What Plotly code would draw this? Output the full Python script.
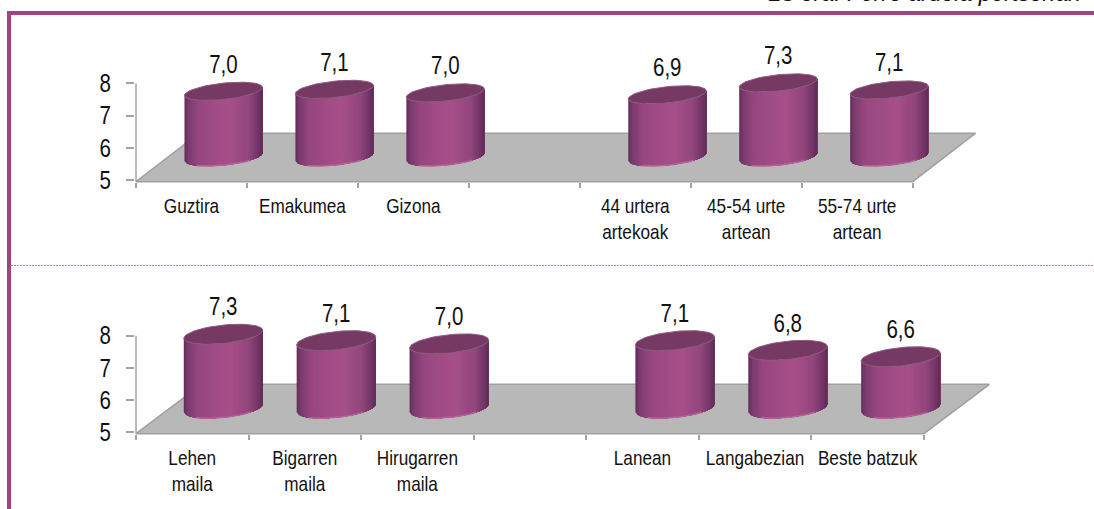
import math
import plotly.graph_objects as go

# ---- data ----
top_categories = ["Guztira", "Emakumea", "Gizona", "", "44 urtera<br>artekoak", "45-54 urte<br>artean", "55-74 urte<br>artean"]
top_values = [7.04, 7.10, 6.99, None, 6.93, 7.30, 7.08]
bottom_categories = ["Lehen<br>maila", "Bigarren<br>maila", "Hirugarren<br>maila", "", "Lanean", "Langabezian", "Beste batzuk"]
bottom_values = [7.30, 7.10, 7.00, None, 7.10, 6.80, 6.60]
y_ticks = [5, 6, 7, 8]
header_text = "25 ora. Ferro ardoia pertsonan"

W, H = 1094, 509
PURPLE = "#A0457F"
AXIS = "#A3A3A3"
FONT = "Liberation Sans, Arial"
X_LO = -0.01
Y_TOP = 9.6
Y_LOW = 4.9

# gradient across the cylinder wall: position, colour
STOPS = [(0.00, (96, 44, 88)), (0.05, (122, 58, 110)), (0.18, (150, 70, 127)), (0.45, (163, 77, 135)),
         (0.60, (166, 79, 136)), (0.82, (146, 70, 124)), (0.95, (112, 52, 102)), (1.00, (94, 44, 84))]
N_BANDS = 44


def grad(u):
    for (a, ca), (b, cb) in zip(STOPS, STOPS[1:]):
        if u <= b:
            f = (u - a) / (b - a)
            return "rgb(%d,%d,%d)" % tuple(round(p + (q - p) * f) for p, q in zip(ca, cb))
    return "rgb(94,44,84)"


def panel(fig, xa, ya, cats, vals, geo):
    unit_x = geo["unit_x"]
    unit_y = (geo["y5"] - geo["y8"]) / 3
    a = geo["half_w"] / unit_x
    b = geo["ellipse_h"] / unit_y
    k = 4.0 / unit_y
    base = 5 + (geo["y5"] - geo["base_px"]) / unit_y
    centers = [(i + 0.5 + (geo["offset"] + i * geo["spread"]) / unit_x, v) for i, v in enumerate(vals) if v is not None]

    common = dict(xaxis=xa, yaxis=ya, hoverinfo="skip", showlegend=False)

    # floor
    front = 5 - geo["front_drop"] / unit_y
    dx = geo["floor_dx"] / unit_x
    dy = geo["floor_dy"] / unit_y
    fig.add_trace(go.Scatter(x=[0, 7, 7 + dx, dx, 0], y=[front, front, front + dy, front + dy, front],
                             fill="toself", fillcolor="#B8B8B8", mode="lines",
                             line=dict(color="#A0A0A0", width=1.5), **common))
    # vertical axis line, only from 5 to 8
    fig.add_trace(go.Scatter(x=[0, 0], y=[front, 8], mode="lines", line=dict(color=AXIS, width=1.5), **common))

    def arc_y(cy, u):
        c = 2 * u - 1
        return cy - b * math.sqrt(max(0, 1 - c * c)) + k * c

    # wall: nested polygons, each running from its band start to the right edge
    for n in range(N_BANDS):
        u0 = n / N_BANDS
        xs, ys = [], []
        steps = [u0 + (1 - u0) * j / 30 for j in range(31)]
        for cx, v in centers:
            top = base + (v - 5)
            xs += [cx + a * (2 * u - 1) for u in steps] + [cx + a * (2 * u - 1) for u in reversed(steps)] + [None]
            ys += [arc_y(base, u) for u in steps] + [arc_y(top, u) for u in reversed(steps)] + [None]
        fig.add_trace(go.Scatter(x=xs, y=ys, fill="toself", fillcolor=grad((n + 0.5) / N_BANDS), mode="none", **common))

    # lighter rim at the foot, top ellipse, value labels
    rx, ry, ex, ey = [], [], [], []
    for cx, v in centers:
        top = base + (v - 5)
        for j in range(7, 38):
            u = j / 44
            rx.append(cx + a * (2 * u - 1))
            ry.append(arc_y(base, u))
        rx.append(None)
        ry.append(None)
        for j in range(73):
            t = 2 * math.pi * j / 72
            ex.append(cx + a * math.cos(t))
            ey.append(top + b * math.sin(t) + k * math.cos(t))
        ex.append(None)
        ey.append(None)
    fig.add_trace(go.Scatter(x=rx, y=ry, mode="lines", line=dict(color="#B3639A", width=1.5), **common))
    fig.add_trace(go.Scatter(x=ex, y=ey, fill="toself", fillcolor="#763963", mode="lines",
                             line=dict(color="#8E5C82", width=1), **common))
    fig.add_trace(go.Scatter(x=[c[0] for c in centers],
                             y=[base + (c[1] - 5) + 25 / unit_y for c in centers],
                             text=[f"{c[1]:.1f}".replace(".", ",") for c in centers],
                             mode="text", textposition="middle center",
                             textfont=dict(family=FONT, size=25, color="#111111"), **common))

    x_hi = 7 + dx + 0.01
    return dict(
        xaxis=dict(domain=[(geo["x0"] + X_LO * unit_x) / W, (geo["x0"] + x_hi * unit_x) / W], range=[X_LO, x_hi],
                   anchor="free", position=1 - (geo["y5"] + geo["front_drop"]) / H,
                   tickmode="array", tickvals=[i + 0.5 for i in range(7)], ticktext=cats,
                   ticks="", showline=False, showgrid=False, zeroline=False,
                   tickfont=dict(family=FONT, size=20, color="#111111"), tickangle=0, ticklabelstandoff=10,
                   minor=dict(tickmode="linear", tick0=0, dtick=1, ticks="outside", ticklen=5,
                              tickcolor=AXIS, tickwidth=1.5, showgrid=False)),
        yaxis=dict(domain=[1 - (geo["y5"] + (5 - Y_LOW) * unit_y) / H, 1 - (geo["y5"] - (Y_TOP - 5) * unit_y) / H],
                   range=[Y_LOW, Y_TOP], anchor=xa,
                   tickmode="array", tickvals=y_ticks, ticks="outside", ticklen=8, tickcolor=AXIS, tickwidth=1.5,
                   showline=False, showgrid=False, zeroline=False,
                   tickfont=dict(family=FONT, size=25, color="#111111"), ticklabelstandoff=10),
    )


fig = go.Figure()
top_geo = dict(x0=136, unit_x=110.95, y5=180, y8=83.4, half_w=39, offset=32, spread=0, base_px=157, ellipse_h=8.2,
               front_drop=1.7, floor_dx=63, floor_dy=48.5)
bot_geo = dict(x0=136, unit_x=112.55, y5=432.3, y8=335.7, half_w=39.5, offset=31, spread=0.35, base_px=408.3, ellipse_h=9.2,
               front_drop=1.4, floor_dx=65.6, floor_dy=49.4)
a1 = panel(fig, "x", "y", top_categories, top_values, top_geo)
a2 = panel(fig, "x2", "y2", bottom_categories, bottom_values, bot_geo)

px = lambda v: v / W
py = lambda v: 1 - v / H
shapes = [
    dict(type="rect", xref="paper", yref="paper", x0=px(7), x1=1, y0=py(15), y1=py(11),
         fillcolor=PURPLE, line=dict(width=0), layer="above"),
    dict(type="rect", xref="paper", yref="paper", x0=px(7), x1=px(11), y0=0, y1=py(11),
         fillcolor=PURPLE, line=dict(width=0), layer="above"),
    dict(type="line", xref="paper", yref="paper", x0=px(11), x1=1, y0=py(265.5), y1=py(265.5),
         line=dict(color="#D070B0", width=1, dash="2px,1px"), layer="above"),
]
fig.update_layout(
    width=W, height=H, margin=dict(l=0, r=0, t=0, b=0, pad=0, autoexpand=False),
    paper_bgcolor="white", plot_bgcolor="rgba(0,0,0,0)", showlegend=False, shapes=shapes,
    xaxis=a1["xaxis"], yaxis=a1["yaxis"],
    xaxis2=a2["xaxis"], yaxis2=a2["yaxis"],
    annotations=[dict(text=header_text, xref="paper", yref="paper", x=px(1083), y=py(8),
                      xanchor="right", yanchor="bottom", showarrow=False,
                      font=dict(family="Liberation Sans", size=23, color="#111111", style="italic"))],
)

# The reference's lettering is horizontally condensed: squeeze the real text about its anchor.
SQUEEZE = """
document.body.style.margin='0';document.body.style.overflow='hidden';
var gd = document.getElementById('{plot_id}');
function squeezeGroup(sel, s){
  document.querySelectorAll(sel).forEach(function(t){
    var old = t.getAttribute('transform') || '';
    if (old.indexOf('scale(') >= 0) return;
    var x = parseFloat(t.getAttribute('x')) || 0;
    t.setAttribute('transform', old + ' translate(' + x + ',0) scale(' + s + ',1) translate(' + (-x) + ',0)');
  });
}
function squeeze(){
  squeezeGroup('.xtick text, .x2tick text', 0.86);
  squeezeGroup('.ytick text, .y2tick text, .textpoint text', 0.82);
}
squeeze();
gd.on('plotly_afterplot', squeeze);
[50, 200, 500, 1000].forEach(function(ms){ setTimeout(squeeze, ms); });
"""
fig.write_html("out.html", config=dict(displayModeBar=False), post_script=SQUEEZE)
